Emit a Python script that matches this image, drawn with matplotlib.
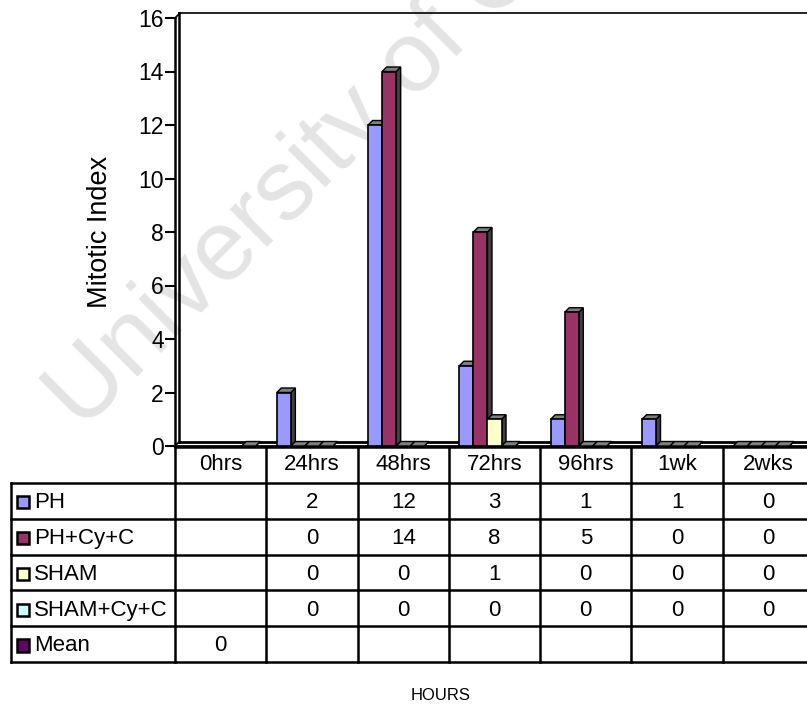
import matplotlib
matplotlib.use("Agg")
import matplotlib.pyplot as plt
from matplotlib.patches import Rectangle, Polygon

plt.rcParams['font.family'] = ['Liberation Sans', 'DejaVu Sans']

categories = ['0hrs', '24hrs', '48hrs', '72hrs', '96hrs', '1wk', '2wks']
series_names = ['PH', 'PH+Cy+C', 'SHAM', 'SHAM+Cy+C', 'Mean']
ph = [None, 2, 12, 3, 1, 1, 0]
ph_cy_c = [None, 0, 14, 8, 5, 0, 0]
sham = [None, 0, 0, 1, 0, 0, 0]
sham_cy_c = [None, 0, 0, 0, 0, 0, 0]
mean = [0, None, None, None, None, None, None]
colors = ['#9999FF', '#993366', '#FFFFCC', '#CCFFFF', '#660066']
series = [ph, ph_cy_c, sham, sham_cy_c, mean]

W, H = 807, 708
fig = plt.figure(figsize=(W / 100, H / 100), dpi=100)

# watermark (sits behind everything)
fig.text(82 / W, 1 - 432 / H, 'University of Cape Town', rotation=45,
         rotation_mode='anchor', ha='left', va='baseline', fontsize=72,
         color='#e4e4e4', zorder=-1)

# plot area in pixels: x 175..814 (7 groups), y 446 (0) .. 18 (16)
ax = fig.add_axes([175 / W, (H - 446) / H, (814 - 175) / W, (446 - 18) / H])
ax.set_zorder(1)
ax.patch.set_alpha(0)
ax.set_xlim(0, 7)
ax.set_ylim(0, 16)
for sp in ax.spines.values():
    sp.set_visible(False)
ax.set_xticks([])
ax.set_yticks(range(0, 17, 2))
ax.tick_params(axis='y', length=7, width=1.5, labelsize=16.5, pad=1)

# 3D depth offset
dx = 4.5 / 91.3
dy = 4.5 / 26.75

# walls / floor
kw = dict(color='black', clip_on=False, zorder=2)
ax.plot([0, 0], [0, 16], lw=1.8, **kw)
ax.plot([dx, dx], [dy, 16 + dy], lw=1.8, **kw)
ax.plot([0, dx], [16, 16 + dy], lw=1.2, **kw)
ax.plot([dx, 7.2], [16 + dy, 16 + dy], lw=1.2, **kw)
ax.plot([0, 7.2], [0, 0], lw=2, **kw)
ax.plot([dx, 7.2], [dy, dy], lw=2, **kw)
ax.plot([0, dx], [0, dy], lw=1.2, **kw)

bw = 1 / 6.5
for s, vals in enumerate(series):
    for g, v in enumerate(vals):
        if v is None:
            continue
        x0 = g + (0.75 + s) * bw
        x1 = x0 + bw
        z = 3 + g * 10 + s
        side = Polygon([(x1, 0), (x1 + dx, dy), (x1 + dx, v + dy), (x1, v)],
                       closed=True, facecolor='#404040', edgecolor='black',
                       lw=1, zorder=z, clip_on=False)
        top = Polygon([(x0, v), (x0 + dx, v + dy), (x1 + dx, v + dy), (x1, v)],
                      closed=True, facecolor='#7f7f7f', edgecolor='black',
                      lw=1, zorder=z, clip_on=False)
        ax.add_patch(side)
        ax.add_patch(top)
        if v > 0:
            ax.add_patch(Rectangle((x0, 0), bw, v, facecolor=colors[s],
                                   edgecolor='black', lw=1.2,
                                   zorder=z, clip_on=False))

fig.text(100 / W, 1 - 232 / H, 'Mitotic Index', rotation=90, ha='center',
         va='center', fontsize=19.5)

# data table under the plot: x 11..814, y 447..662 (6 rows)
lab_w = (175 - 11) / 91.3
tax = fig.add_axes([11 / W, (H - 662) / H, (814 - 11) / W, (662 - 447) / H])
tax.set_xlim(-lab_w, 7)
tax.set_ylim(6, 0)
tax.axis('off')
n = len(categories)
lk = dict(color='black', lw=1.8, clip_on=False)
tax.plot([0, n], [0, 0], **lk)
for r in range(1, 7):
    tax.plot([-lab_w, n], [r, r], **lk)
tax.plot([-lab_w, -lab_w], [1, 6], **lk)
for c in range(n + 1):
    tax.plot([c, c], [0, 6], **lk)

fs = 16
for c, cat in enumerate(categories):
    tax.text(c + 0.5, 0.5, cat, ha='center', va='center', fontsize=fs)

kx = -lab_w + 6 / 91.3
ks = 12 / 91.3
for r, (name, vals) in enumerate(zip(series_names, series), start=1):
    tax.add_patch(Rectangle((kx, r + 0.55 - 0.18), ks, 0.34,
                            facecolor=colors[r - 1], edgecolor='black',
                            lw=1.8, clip_on=False))
    tax.text(kx + ks + 5 / 91.3, r + 0.55, name, ha='left', va='center',
             fontsize=fs)
    for c, v in enumerate(vals):
        if v is not None:
            tax.text(c + 0.5, r + 0.55, str(v), ha='center', va='center',
                     fontsize=fs)

fig.text(441 / W, 1 - 695 / H, 'HOURS', ha='center', va='center', fontsize=12)

fig.savefig('out.png', dpi=100)
